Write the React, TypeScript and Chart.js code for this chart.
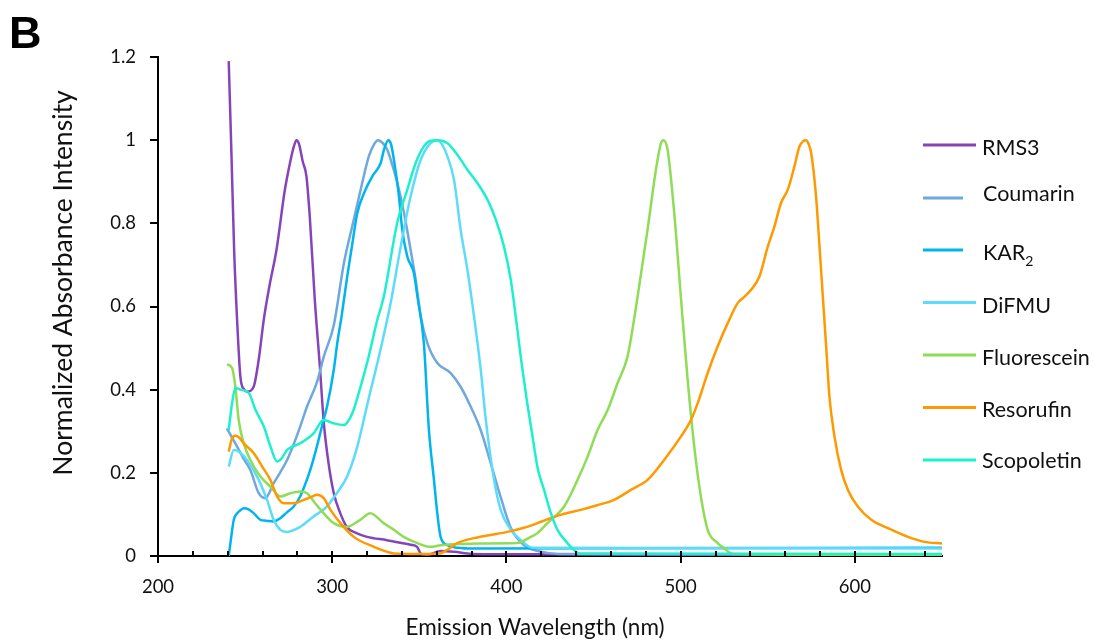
import React, { useEffect, useRef } from "react";
import { Chart, registerables } from "chart.js";

Chart.register(...registerables);

// ---------- data ----------
const seriesNames = ["RMS3", "Coumarin", "KAR₂", "DiFMU", "Fluorescein", "Resorufin", "Scopoletin"];
const seriesColors = ["#8545B9", "#6FA8DC", "#00B4EE", "#5CDCFA", "#8FDC57", "#FF9900", "#1DF0CC"];

const rms3X = [240.6, 242.2, 243.7, 245.4, 247.3, 249.5, 251.1, 254.9, 257.8, 260.7, 264, 268, 272.8, 276, 278, 279.5, 281, 283, 285.2, 287.1, 290, 292.9, 295.2, 298, 300.9, 304.6, 308.4, 314, 320, 331.4, 339, 345, 348.7, 351, 355, 362, 370, 380, 420, 500, 650];
const rms3Y = [1.19, 0.96, 0.736, 0.568, 0.431, 0.4, 0.395, 0.407, 0.472, 0.568, 0.65, 0.736, 0.88, 0.95, 0.985, 1.0, 0.99, 0.95, 0.913, 0.817, 0.616, 0.456, 0.319, 0.22, 0.151, 0.103, 0.07, 0.055, 0.046, 0.038, 0.032, 0.027, 0.022, 0.005, 0.003, 0.012, 0.01, 0.005, 0.004, 0.003, 0.003];

const coumarinX = [239.5, 245.4, 249, 253, 257.8, 261.6, 266.4, 270, 274.1, 278, 281.6, 285.6, 291.4, 295.2, 300.9, 306.7, 312.4, 317.2, 321, 324, 326.2, 328.5, 331.6, 334.5, 337.4, 341.2, 345, 347.9, 350.8, 354.6, 360.3, 368, 373.7, 379.5, 385.2, 391, 396.6, 402.3, 410, 418, 430, 650];
const coumarinY = [0.307, 0.263, 0.235, 0.207, 0.151, 0.139, 0.175, 0.2, 0.231, 0.27, 0.311, 0.36, 0.42, 0.48, 0.555, 0.704, 0.809, 0.897, 0.961, 0.99, 1.0, 0.995, 0.977, 0.94, 0.897, 0.825, 0.736, 0.664, 0.576, 0.512, 0.464, 0.44, 0.407, 0.359, 0.303, 0.223, 0.143, 0.07, 0.026, 0.012, 0.005, 0.003];

const kar2X = [240.6, 242, 243.5, 245.5, 247.3, 249.2, 252, 254.9, 258.8, 262, 266.4, 270.2, 274, 277.9, 281.6, 284, 287.4, 291, 295, 297, 300.9, 302.9, 305.5, 308.6, 311.5, 314.4, 319.1, 323, 327.8, 329.7, 332.2, 333.8, 335.4, 338.3, 340.2, 343.1, 346.9, 348.9, 352.6, 355.5, 358.4, 360.3, 362.2, 366.1, 372, 381.4, 650];
const kar2Y = [0, 0.045, 0.087, 0.103, 0.11, 0.115, 0.112, 0.103, 0.087, 0.085, 0.083, 0.091, 0.105, 0.119, 0.143, 0.167, 0.207, 0.26, 0.327, 0.359, 0.448, 0.512, 0.58, 0.672, 0.75, 0.825, 0.881, 0.913, 0.945, 0.977, 1.0, 0.99, 0.953, 0.865, 0.785, 0.72, 0.68, 0.624, 0.512, 0.303, 0.183, 0.103, 0.046, 0.026, 0.02, 0.018, 0.02];

const difmuX = [240.6, 243.5, 246.4, 251.1, 256.9, 262.6, 266.4, 270.2, 274.1, 281.6, 289.3, 296.9, 302.6, 308.4, 314.2, 317.2, 321, 325.9, 333.5, 339.3, 345, 350.8, 356.5, 360.3, 363, 366.1, 369.9, 373.7, 377.6, 381.4, 385.2, 388.1, 392.9, 396.7, 402.5, 408.3, 415, 650];
const difmuY = [0.215, 0.255, 0.251, 0.231, 0.191, 0.135, 0.087, 0.063, 0.058, 0.07, 0.095, 0.119, 0.151, 0.19, 0.26, 0.311, 0.38, 0.464, 0.608, 0.744, 0.865, 0.953, 0.993, 1.0, 0.99, 0.961, 0.905, 0.785, 0.688, 0.576, 0.45, 0.33, 0.183, 0.111, 0.063, 0.038, 0.02, 0.018];

const fluoresceinX = [239.6, 242.5, 244.4, 246.3, 249.2, 253, 258.8, 264.5, 270.2, 276, 281.6, 285.5, 290.2, 295, 300.9, 308.4, 316.1, 321.8, 329.5, 335.4, 341, 348.9, 356.5, 362.2, 385, 406.3, 413.9, 417.8, 423.5, 433.1, 440.8, 446.6, 452.3, 458.1, 463.8, 469.5, 475.3, 481, 485.8, 488.7, 490.2, 492.5, 496.3, 500.1, 504, 507.8, 511.6, 515.5, 521.2, 525.1, 530, 650];
const fluoresceinY = [0.461, 0.452, 0.407, 0.327, 0.271, 0.231, 0.191, 0.167, 0.143, 0.151, 0.155, 0.151, 0.127, 0.103, 0.079, 0.07, 0.087, 0.103, 0.079, 0.063, 0.046, 0.031, 0.022, 0.026, 0.03, 0.031, 0.046, 0.055, 0.079, 0.119, 0.183, 0.239, 0.303, 0.351, 0.416, 0.48, 0.624, 0.785, 0.929, 0.993, 1.0, 0.977, 0.825, 0.624, 0.424, 0.263, 0.143, 0.063, 0.031, 0.018, 0.005, 0.002];

const resorufinX = [240.6, 242.5, 244.4, 246.5, 249.2, 255, 259.8, 264.5, 268.4, 272.2, 277.9, 283.7, 288, 291.3, 295.1, 299, 304.7, 312.4, 323.9, 331.6, 335.3, 350, 362, 366, 371.8, 381.4, 390, 400.5, 410, 417.8, 423.5, 432, 442.7, 452, 461.8, 471.4, 481, 490.5, 500.1, 505.9, 510, 515.5, 521.2, 527, 532.7, 537, 540.4, 545.2, 550, 553.8, 557.6, 561.5, 565.3, 568.2, 570.5, 572, 573.5, 574.9, 577.7, 579.7, 581.6, 583.5, 585.4, 588.3, 592.1, 596, 601.7, 609.4, 619, 630.5, 640, 650];
const resorufinY = [0.251, 0.283, 0.289, 0.285, 0.271, 0.247, 0.215, 0.183, 0.143, 0.127, 0.127, 0.135, 0.142, 0.147, 0.139, 0.111, 0.079, 0.046, 0.022, 0.01, 0.006, 0.005, 0.006, 0.015, 0.031, 0.043, 0.05, 0.058, 0.068, 0.079, 0.088, 0.1, 0.111, 0.122, 0.135, 0.159, 0.183, 0.231, 0.287, 0.327, 0.37, 0.44, 0.504, 0.56, 0.608, 0.625, 0.64, 0.672, 0.744, 0.792, 0.849, 0.881, 0.937, 0.985, 0.998, 1.0, 0.99, 0.969, 0.865, 0.744, 0.624, 0.504, 0.383, 0.287, 0.207, 0.159, 0.119, 0.087, 0.067, 0.046, 0.034, 0.03];

const scopoletinX = [240.6, 242.5, 244.4, 247.3, 252.1, 256, 260.8, 264.6, 268.4, 271, 274.1, 281.6, 289.3, 295, 300.9, 306.7, 311.5, 314.4, 320, 325.9, 329.6, 337.3, 343.1, 347.9, 352.6, 356, 360.3, 366, 371.8, 377.6, 383.3, 389.1, 393.9, 398.6, 402.5, 405.5, 408.5, 411.5, 414.5, 418, 421.6, 425.5, 429.3, 435, 437.9, 442, 650];
const scopoletinY = [0.303, 0.367, 0.404, 0.4, 0.392, 0.351, 0.311, 0.263, 0.227, 0.235, 0.255, 0.271, 0.295, 0.327, 0.319, 0.315, 0.343, 0.38, 0.464, 0.568, 0.624, 0.801, 0.881, 0.945, 0.985, 0.998, 1.0, 0.993, 0.965, 0.929, 0.897, 0.857, 0.809, 0.744, 0.664, 0.57, 0.47, 0.38, 0.3, 0.21, 0.159, 0.103, 0.063, 0.031, 0.018, 0.006, 0.005];

const seriesX = [rms3X, coumarinX, kar2X, difmuX, fluoresceinX, resorufinX, scopoletinX];
const seriesY = [rms3Y, coumarinY, kar2Y, difmuY, fluoresceinY, resorufinY, scopoletinY];

const xMajorTicks = [200, 300, 400, 500, 600];
const xMinorTicks = [220, 240, 260, 280, 320, 340, 360, 380, 420, 440, 460, 480, 520, 540, 560, 580, 620, 640];
const yTicks = [0, 0.2, 0.4, 0.6, 0.8, 1, 1.2];

const xTitle = "Emission Wavelength (nm)";
const yTitle = "Normalized Absorbance Intensity";
const panelLabel = "B";

// ---------- layout (not data) ----------
const W = 1095;
const H = 642;
const FONT = "Lato, 'Open Sans', sans-serif";
const legendLineY = [145, 198, 250, 302.5, 355, 407.5, 460];
const legendTextY = [148, 194, 253, 306, 358, 410.5, 461.5];
const legendLineEnd = [976, 963, 963, 976, 976, 976, 976];

const overlayPlugin = {
  id: "overlay",
  afterDraw(chart: any) {
    const ctx = chart.ctx;
    const xs = chart.scales.x;
    const bottom = chart.chartArea.bottom;
    ctx.save();
    // upward minor/major ticks on x axis
    ctx.strokeStyle = "#000";
    ctx.lineWidth = 2;
    [...xMinorTicks, ...xMajorTicks].forEach((v) => {
      const px = Math.round(xs.getPixelForValue(v));
      ctx.beginPath();
      ctx.moveTo(px, bottom);
      ctx.lineTo(px, bottom - 5);
      ctx.stroke();
    });
    // axis titles
    ctx.fillStyle = "#111";
    ctx.textAlign = "center";
    ctx.textBaseline = "middle";
    ctx.font = `22.5px ${FONT}`;
    ctx.fillText(xTitle, 535, 628);
    ctx.save();
    ctx.translate(63, 283);
    ctx.rotate(-Math.PI / 2);
    ctx.font = `26.5px ${FONT}`;
    ctx.fillText(yTitle, 0, 0);
    ctx.restore();
    // panel label
    ctx.fillStyle = "#000";
    ctx.font = "bold 45px 'Liberation Sans', Arial, sans-serif";
    ctx.textBaseline = "alphabetic";
    ctx.textAlign = "left";
    ctx.fillText(panelLabel, 9, 48);
    // legend
    ctx.lineWidth = 3;
    chart.data.datasets.forEach((ds: any, i: number) => {
      ctx.strokeStyle = ds.borderColor;
      ctx.beginPath();
      ctx.moveTo(923, legendLineY[i]);
      ctx.lineTo(legendLineEnd[i], legendLineY[i]);
      ctx.stroke();
      ctx.fillStyle = "#111";
      ctx.font = `21.5px ${FONT}`;
      ctx.textBaseline = "middle";
      const label: string = ds.label;
      const tx = i === 1 || i === 2 ? 983 : 982;
      if (label.includes("₂")) {
        const main = label.replace("₂", "");
        ctx.fillText(main, tx, legendTextY[i]);
        const w = ctx.measureText(main).width;
        ctx.font = `14px ${FONT}`;
        ctx.fillText("2", tx + w, legendTextY[i] + 8);
      } else {
        ctx.fillText(label, tx, legendTextY[i]);
      }
    });
    ctx.restore();
  },
};

export default function App() {
  const canvasRef = useRef<HTMLCanvasElement | null>(null);

  useEffect(() => {
    document.body.style.margin = "0";
    const canvas = canvasRef.current;
    if (!canvas) return;
    const n = seriesNames.length;
    const chart = new Chart(canvas, {
      type: "line",
      data: {
        datasets: seriesNames.map((name, i) => ({
          label: name,
          data: seriesX[i].map((x, j) => ({ x, y: seriesY[i][j] })),
          borderColor: seriesColors[i],
          backgroundColor: seriesColors[i],
          borderWidth: 2.5,
          pointRadius: 0,
          fill: false,
          cubicInterpolationMode: "monotone" as const,
          order: n - i,
        })),
      },
      options: {
        responsive: false,
        animation: false,
        layout: { padding: { left: 0, right: 153, top: 57, bottom: 0 } },
        plugins: { legend: { display: false }, tooltip: { enabled: false } },
        scales: {
          x: {
            type: "linear",
            min: 200,
            max: 650,
            afterBuildTicks: (s: any) => {
              s.ticks = xMajorTicks.map((v) => ({ value: v }));
            },
            afterFit: (s: any) => {
              s.height = H - 556;
            },
            grid: { drawOnChartArea: false, drawTicks: true, tickLength: 7, color: "#000", lineWidth: 2 },
            border: { color: "#000", width: 2 },
            ticks: { color: "#111", font: { family: FONT, size: 18.5 }, padding: 13, maxRotation: 0 },
          },
          y: {
            type: "linear",
            min: 0,
            max: 1.2,
            afterBuildTicks: (s: any) => {
              s.ticks = yTicks.map((v) => ({ value: v }));
            },
            afterFit: (s: any) => {
              s.width = 158;
            },
            grid: { drawOnChartArea: false, drawTicks: true, tickLength: 8, color: "#000", lineWidth: 2 },
            border: { color: "#000", width: 2 },
            ticks: {
              color: "#111",
              font: { family: FONT, size: 18.5 },
              padding: 14,
              callback: (v: any) => String(Number(Number(v).toFixed(1))),
            },
          },
        },
      },
      plugins: [overlayPlugin],
    });
    return () => chart.destroy();
  }, []);

  return (
    <div style={{ width: W, height: H, background: "#fff" }}>
      <canvas ref={canvasRef} width={W} height={H} style={{ display: "block" }} />
    </div>
  );
}
